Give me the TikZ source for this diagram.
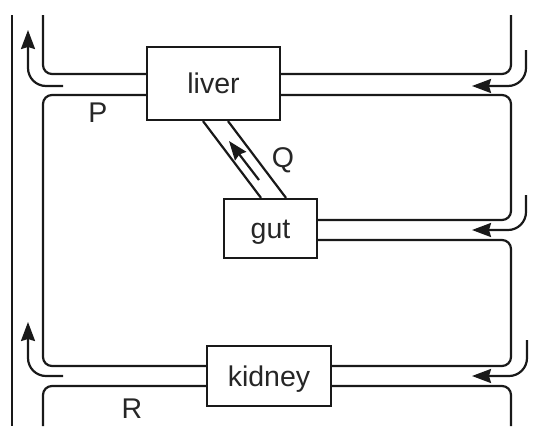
\documentclass[tikz,border=0pt]{standalone}
\usepackage{fontspec}
\setmainfont{Liberation Sans}
\usetikzlibrary{arrows.meta}
\begin{document}
\begin{tikzpicture}[x=1pt,y=-1pt,
  wall/.style={line width=2.2pt, rounded corners=9pt, color=black!90},
  flowarrow/.style={line width=2.2pt, rounded corners=18pt, color=black!90,
    -{Stealth[length=19pt,width=14pt,inset=2pt]}},
  qarrow/.style={line width=2.2pt, color=black!90,
    -{Stealth[length=19pt,width=14pt,inset=2pt]}},
  organ/.style={draw=black!90, line width=2.2pt, fill=white, inner sep=0pt,
    font=\fontsize{28.5}{33}\selectfont, text height=20pt, text depth=0pt, text=black!85},
  lbl/.style={font=\fontsize{28.5}{33}\selectfont, text=black!85, inner sep=0pt}]
\useasboundingbox (0,0) rectangle (534,426);
% organs
\node[organ, minimum width=133pt, minimum height=73pt] (liver) at (213.5,83.5) {liver};
\node[organ, minimum width=93pt, minimum height=59pt] (gut) at (270.5,228.5) {gut};
\node[organ, minimum width=124pt, minimum height=60pt] (kidney) at (269,376) {kidney};
% levels
\coordinate (yA) at (0,74);
\coordinate (yB) at (0,95);
\coordinate (yC) at (0,220);
\coordinate (yD) at (0,240);
\coordinate (yE) at (0,366);
\coordinate (yF) at (0,386);
% free ends / bends
\coordinate (oT) at (12,15);
\coordinate (oB) at (12,426);
\coordinate (lT) at (43,15);
\coordinate (lM) at (43,200);
\coordinate (lB) at (43,426);
\coordinate (rT) at (511,15);
\coordinate (rM1) at (511,150);
\coordinate (rM2) at (511,300);
\coordinate (rB) at (511,426);
% outer vessel
\draw[wall] (oT) -- (oB);
% left side
\draw[wall] (liver.west |- yA) -| (lT);
\draw[wall] (liver.west |- yB) -| (lM) |- (kidney.west |- yE);
\draw[wall] (kidney.west |- yF) -| (lB);
% right side
\draw[wall] (liver.east |- yA) -| (rT);
\draw[wall] (liver.east |- yB) -| (rM1) |- (gut.east |- yC);
\draw[wall] (gut.east |- yD) -| (rM2) |- (kidney.east |- yE);
\draw[wall] (kidney.east |- yF) -| (rB);
% Q channel
\draw[wall] ([xshift=-10.5pt]liver.south) -- ([xshift=-9.5pt]gut.north);
\draw[wall] ([xshift=14.5pt]liver.south) -- ([xshift=15.5pt]gut.north);
% flow arrows
\coordinate (fa1) at (63,86);   \coordinate (fa1e) at (28,30);
\coordinate (fa2) at (63,376);  \coordinate (fa2e) at (28,322);
\coordinate (fb1) at (526,50);  \coordinate (fb1e) at (472,86);
\coordinate (fb2) at (526,195); \coordinate (fb2e) at (472,230);
\coordinate (fb3) at (527,340); \coordinate (fb3e) at (472,376);
\coordinate (qa) at (259,180);  \coordinate (qae) at (229,141);
\draw[flowarrow] (fa1) -| (fa1e);
\draw[flowarrow] (fa2) -| (fa2e);
\draw[flowarrow] (fb1) |- (fb1e);
\draw[flowarrow] (fb2) |- (fb2e);
\draw[flowarrow] (fb3) |- (fb3e);
\draw[qarrow] (qa) -- (qae);
% labels
\node[lbl] (P) at (98,113) {P};
\node[lbl] (Q) at (283,160) {Q};
\node[lbl] (R) at (132,409) {R};
\end{tikzpicture}
\end{document}
